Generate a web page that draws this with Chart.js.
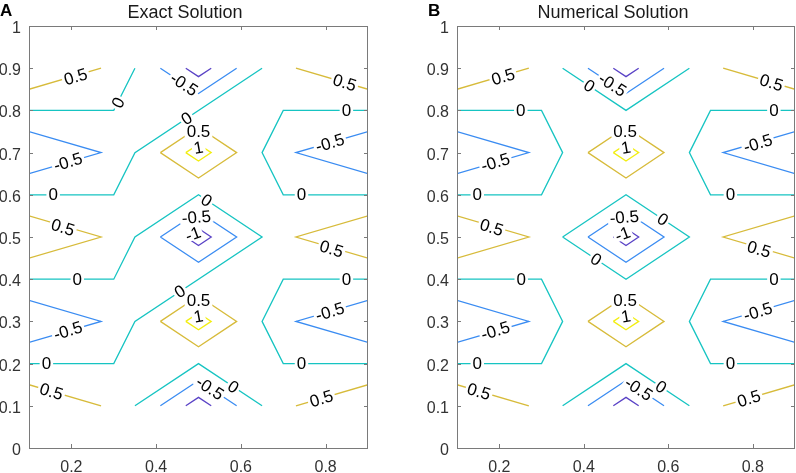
<!DOCTYPE html>
<html lang="en">
<head>
  <meta charset="UTF-8" />
  <title>Exact vs Numerical Solution</title>
  <script src="https://cdn.jsdelivr.net/npm/chart.js"></script>
  <style>
    body { margin: 0; background: #fff; }
    canvas { position: absolute; top: 0; }
    #chartA { left: 0; }
    #chartB { left: 398px; }
  </style>
</head>
<body>
  <canvas id="chartA" width="398" height="473"></canvas>
  <canvas id="chartB" width="398" height="473"></canvas>

  <script>
    // tick values of both panels
    const xTicks = [0.2, 0.4, 0.6, 0.8];
    const yTicks = [0, 0.1, 0.2, 0.3, 0.4, 0.5, 0.6, 0.7, 0.8, 0.9, 1];

    // contour polylines, [x, y] in data units
    // levels -1, -0.5, 0.5 and 1 look the same in both panels
    const negOne = [
      [[0.47, 0.9], [0.5, 0.88], [0.53, 0.9]],
      [[0.47, 0.5], [0.5, 0.52], [0.53, 0.5], [0.5, 0.48], [0.47, 0.5]],
      [[0.47, 0.1], [0.5, 0.12], [0.53, 0.1]]
    ];
    const negHalf = [
      [[0.41, 0.9], [0.5, 0.84], [0.59, 0.9]],
      [[0.1, 0.75], [0.27, 0.7], [0.1, 0.65]],
      [[0.9, 0.75], [0.73, 0.7], [0.9, 0.65]],
      [[0.41, 0.5], [0.5, 0.56], [0.59, 0.5], [0.5, 0.44], [0.41, 0.5]],
      [[0.1, 0.35], [0.27, 0.3], [0.1, 0.25]],
      [[0.9, 0.35], [0.73, 0.3], [0.9, 0.25]],
      [[0.41, 0.1], [0.5, 0.16], [0.59, 0.1]]
    ];
    const posHalf = [
      [[0.1, 0.85], [0.27, 0.9]],
      [[0.73, 0.9], [0.9, 0.85]],
      [[0.41, 0.7], [0.5, 0.76], [0.59, 0.7], [0.5, 0.64], [0.41, 0.7]],
      [[0.1, 0.55], [0.27, 0.5], [0.1, 0.45]],
      [[0.9, 0.55], [0.73, 0.5], [0.9, 0.45]],
      [[0.41, 0.3], [0.5, 0.36], [0.59, 0.3], [0.5, 0.24], [0.41, 0.3]],
      [[0.1, 0.15], [0.27, 0.1]],
      [[0.73, 0.1], [0.9, 0.15]]
    ];
    const posOne = [
      [[0.47, 0.7], [0.5, 0.72], [0.53, 0.7], [0.5, 0.68], [0.47, 0.7]],
      [[0.47, 0.3], [0.5, 0.32], [0.53, 0.3], [0.5, 0.28], [0.47, 0.3]]
    ];

    // the zero contour is where the two panels differ
    const exactZero = [
      [[0.1, 0.8], [0.3, 0.8], [0.35, 0.9]],
      [[0.1, 0.6], [0.3, 0.6], [0.35, 0.7], [0.65, 0.9]],
      [[0.9, 0.8], [0.7, 0.8], [0.65, 0.7], [0.7, 0.6], [0.9, 0.6]],
      [[0.1, 0.4], [0.3, 0.4], [0.35, 0.5], [0.5, 0.6], [0.65, 0.5], [0.35, 0.3], [0.3, 0.2], [0.1, 0.2]],
      [[0.9, 0.4], [0.7, 0.4], [0.65, 0.3], [0.7, 0.2], [0.9, 0.2]],
      [[0.35, 0.1], [0.5, 0.2], [0.65, 0.1]]
    ];
    const numZero = [
      [[0.35, 0.9], [0.5, 0.8], [0.65, 0.9]],
      [[0.1, 0.8], [0.3, 0.8], [0.35, 0.7], [0.3, 0.6], [0.1, 0.6]],
      [[0.9, 0.8], [0.7, 0.8], [0.65, 0.7], [0.7, 0.6], [0.9, 0.6]],
      [[0.35, 0.5], [0.5, 0.6], [0.65, 0.5], [0.5, 0.4], [0.35, 0.5]],
      [[0.1, 0.4], [0.3, 0.4], [0.35, 0.3], [0.3, 0.2], [0.1, 0.2]],
      [[0.9, 0.4], [0.7, 0.4], [0.65, 0.3], [0.7, 0.2], [0.9, 0.2]],
      [[0.35, 0.1], [0.5, 0.2], [0.65, 0.1]]
    ];

    // inline contour labels: text, x, y, rotation (deg)
    const exactLabels = [
      ['0.5', 0.21, 0.88, -17], ['0', 0.31, 0.818, -63], ['-0.5', 0.466, 0.862, 33],
      ['0.5', 0.845, 0.866, 17], ['0', 0.849, 0.8, 0], ['0', 0.472, 0.781, -33],
      ['0.5', 0.5, 0.75, 0], ['1', 0.5, 0.712, -10], ['-0.5', 0.81, 0.723, -17],
      ['-0.5', 0.192, 0.678, -17], ['0', 0.157, 0.6, 0], ['0', 0.743, 0.6, 0],
      ['0', 0.519, 0.587, 33], ['-0.5', 0.495, 0.547, -5], ['-1', 0.487, 0.507, -20],
      ['0.5', 0.18, 0.523, 17], ['0.5', 0.814, 0.472, 17], ['0', 0.214, 0.4, 0],
      ['0', 0.849, 0.4, 0], ['0', 0.456, 0.371, -33], ['0.5', 0.5, 0.35, 0],
      ['1', 0.5, 0.312, -10], ['-0.5', 0.81, 0.323, -17], ['-0.5', 0.192, 0.278, -17],
      ['0', 0.141, 0.2, 0], ['0', 0.743, 0.2, 0], ['-0.5', 0.527, 0.142, 33],
      ['0', 0.582, 0.145, 33], ['0.5', 0.153, 0.134, 17], ['0.5', 0.79, 0.117, -17]
    ];
    const numLabels = [
      ['0.5', 0.209, 0.88, -17], ['0', 0.413, 0.858, 33], ['-0.5', 0.468, 0.861, 33],
      ['0.5', 0.844, 0.866, 17], ['0', 0.251, 0.8, 0], ['0', 0.85, 0.8, 0],
      ['0.5', 0.498, 0.75, 0], ['1', 0.5, 0.712, -10], ['-0.5', 0.812, 0.722, -17],
      ['-0.5', 0.191, 0.677, -17], ['0', 0.148, 0.6, 0], ['0', 0.747, 0.6, 0],
      ['-0.5', 0.496, 0.547, -5], ['0', 0.587, 0.542, 33], ['-1', 0.492, 0.507, -20],
      ['0.5', 0.182, 0.523, 17], ['0.5', 0.815, 0.471, 17], ['0', 0.429, 0.447, 33],
      ['0', 0.252, 0.4, 0], ['0', 0.85, 0.4, 0], ['0.5', 0.498, 0.35, 0],
      ['1', 0.5, 0.312, -10], ['-0.5', 0.812, 0.323, -17], ['-0.5', 0.191, 0.278, -17],
      ['0', 0.148, 0.2, 0], ['0', 0.747, 0.2, 0], ['-0.5', 0.53, 0.14, 33],
      ['0', 0.583, 0.145, 33], ['0.5', 0.152, 0.134, 17], ['0.5', 0.791, 0.117, -17]
    ];

    const levelColor = {
      '-1': '#5a43c6',
      '-0.5': '#3a8cf2',
      '0': '#16c4c2',
      '0.5': '#d7bb3a',
      '1': '#f2ee12'
    };
    const FONT = '"Liberation Sans", Arial, Helvetica, sans-serif';

    function makeSets(groups) {
      return groups.flatMap(([lvl, lines]) => lines.map(pts => ({
        data: pts.map(([x, y]) => ({ x, y })),
        borderColor: levelColor[lvl],
        borderWidth: 1.3,
        showLine: true,
        pointRadius: 0,
        fill: false,
        tension: 0
      })));
    }

    // labels, title and panel letter
    const contourText = {
      id: 'contourText',
      afterDatasetsDraw(chart, args, opts) {
        const { ctx } = chart;
        const xs = chart.scales.x, ys = chart.scales.y;
        ctx.save();
        ctx.font = '17px ' + FONT;
        ctx.textAlign = 'center';
        ctx.textBaseline = 'middle';
        const items = opts.labels.map(([t, vx, vy, a]) => ({
          t, a: a * Math.PI / 180,
          px: xs.getPixelForValue(vx), py: ys.getPixelForValue(vy),
          w: ctx.measureText(t).width
        }));
        ctx.fillStyle = '#fff';
        items.forEach(it => {
          ctx.save();
          ctx.translate(it.px, it.py);
          ctx.rotate(it.a);
          ctx.fillRect(-it.w / 2 - 2, -6, it.w + 4, 12);
          ctx.restore();
        });
        ctx.fillStyle = '#000';
        items.forEach(it => {
          ctx.save();
          ctx.translate(it.px, it.py);
          ctx.rotate(it.a);
          ctx.fillText(it.t, 0, 1);
          ctx.restore();
        });
        ctx.restore();
      },
      afterDraw(chart, args, opts) {
        const { ctx, chartArea: ca } = chart;
        const xs = chart.scales.x, ys = chart.scales.y;
        ctx.save();
        // box and inward ticks
        ctx.strokeStyle = '#7a7a7a';
        ctx.lineWidth = 1;
        ctx.strokeRect(Math.round(ca.left) + 0.5, Math.round(ca.top) + 0.5,
          Math.round(ca.right - ca.left) - 1, Math.round(ca.bottom - ca.top));
        ctx.beginPath();
        xTicks.forEach(v => {
          const px = Math.round(xs.getPixelForValue(v)) + 0.5;
          ctx.moveTo(px, ca.bottom); ctx.lineTo(px, ca.bottom - 4);
          ctx.moveTo(px, ca.top); ctx.lineTo(px, ca.top + 4);
        });
        yTicks.forEach(v => {
          const py = Math.round(ys.getPixelForValue(v)) + 0.5;
          ctx.moveTo(ca.left, py); ctx.lineTo(ca.left + 4, py);
          ctx.moveTo(ca.right, py); ctx.lineTo(ca.right - 4, py);
        });
        ctx.stroke();
        // title and panel letter
        ctx.fillStyle = '#1a1a1a';
        ctx.textBaseline = 'alphabetic';
        ctx.textAlign = 'center';
        ctx.font = '18px ' + FONT;
        ctx.fillText(opts.title, opts.titleX, 18);
        ctx.fillStyle = '#000';
        ctx.textAlign = 'left';
        ctx.font = 'bold 17px ' + FONT;
        ctx.fillText(opts.letter, opts.letterX, 16);
        ctx.restore();
      }
    };

    function makeChart(id, groups, labels, title, titleX, letter, letterX, axisWidth, padRight) {
      return new Chart(document.getElementById(id), {
        type: 'scatter',
        data: { datasets: makeSets(groups) },
        options: {
          responsive: false,
          animation: false,
          layout: { padding: { left: 0, right: padRight, top: 26, bottom: 0 } },
          plugins: {
            legend: { display: false },
            tooltip: { enabled: false },
            contourText: { labels, title, titleX, letter, letterX }
          },
          scales: {
            x: {
              type: 'linear', min: 0.1, max: 0.9,
              grid: { display: false, drawTicks: false },
              border: { display: false },
              ticks: { autoSkip: false, padding: 10, color: '#333', font: { size: 16, family: FONT },
                callback: v => String(v) },
              afterBuildTicks: s => { s.ticks = xTicks.map(v => ({ value: v })); },
              afterFit: s => { s.height = 25; }
            },
            y: {
              type: 'linear', min: 0, max: 1,
              grid: { display: false, drawTicks: false },
              border: { display: false },
              ticks: { autoSkip: false, padding: 8, labelOffset: 2.5, color: '#333', font: { size: 16, family: FONT },
                callback: v => String(v) },
              afterBuildTicks: s => { s.ticks = yTicks.map(v => ({ value: v })); },
              afterFit: s => { s.width = axisWidth; }
            }
          }
        },
        plugins: [contourText]
      });
    }

    makeChart('chartA',
      [['-1', negOne], ['-0.5', negHalf], ['0', exactZero], ['0.5', posHalf], ['1', posOne]],
      exactLabels, 'Exact Solution', 185, 'A', 0, 29, 30);
    makeChart('chartB',
      [['-1', negOne], ['-0.5', negHalf], ['0', numZero], ['0.5', posHalf], ['1', posOne]],
      numLabels, 'Numerical Solution', 215, 'B', 30, 59, 1);
  </script>
</body>
</html>
